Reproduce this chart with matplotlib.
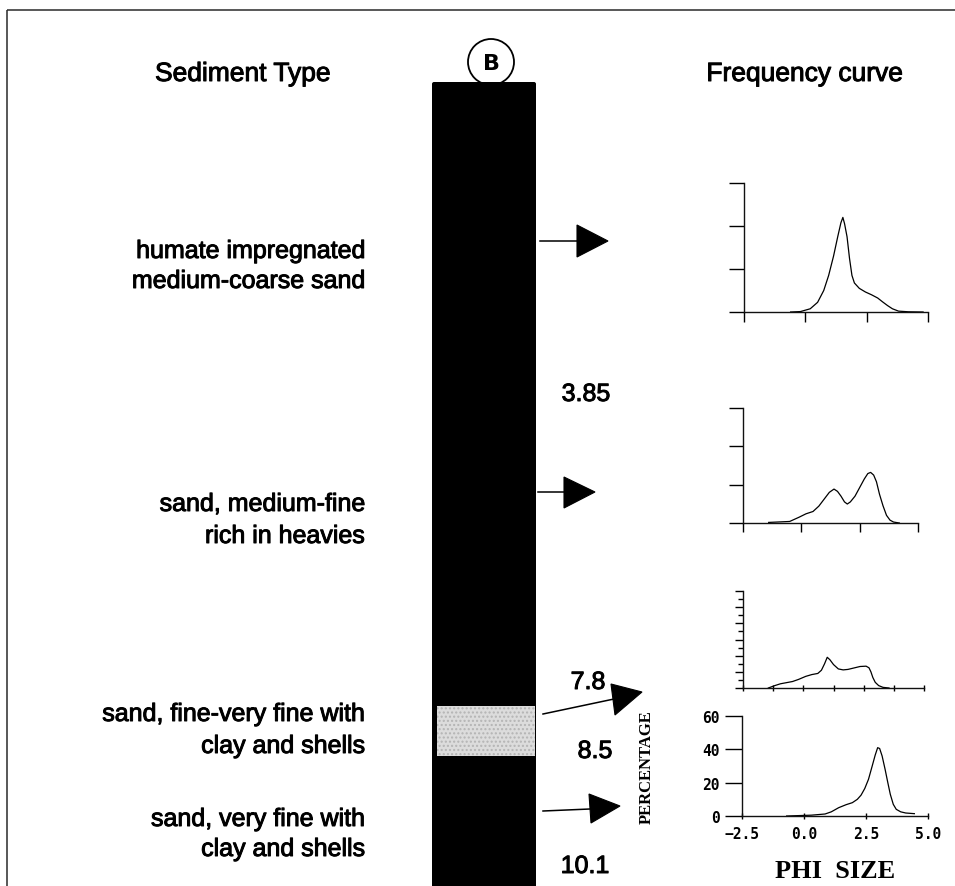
import matplotlib
matplotlib.use("Agg")
import matplotlib.pyplot as plt
import matplotlib.patheffects as pe
from matplotlib.patches import Rectangle, Circle, Polygon, FancyBboxPatch
from matplotlib.ticker import MultipleLocator

# ---- data -------------------------------------------------------------
# grain-size frequency curves (phi size, percentage), top to bottom
phi_1 = [-0.6, -0.2, 0.2, 0.5, 0.75, 0.95, 1.15, 1.32, 1.45, 1.53, 1.6, 1.7,
         1.8, 1.9, 2.0, 2.2, 2.45, 2.7, 2.95, 3.15, 3.35, 3.55, 3.8, 4.2, 4.8]
pct_1 = [0.0, 0.2, 1.5, 4.5, 10, 17, 26, 35, 41.5, 44, 41, 35,
         25, 17, 13.5, 11, 9.3, 8, 6.5, 4.7, 3, 1.5, 0.4, 0.1, 0.0]

phi_2 = [-1.4, -0.5, -0.1, 0.2, 0.5, 0.75, 1.0, 1.2, 1.4, 1.55, 1.7, 1.85,
         1.97, 2.1, 2.3, 2.5, 2.7, 2.85, 2.97, 3.1, 3.22, 3.35, 3.5, 3.65,
         3.8, 3.95, 4.2]
pct_2 = [0.3, 0.8, 3.0, 4.8, 6.0, 8.8, 12.8, 16, 17.7, 16.5, 14, 11,
         9.9, 11, 14, 18.5, 23, 25.8, 26.4, 25, 21.5, 15, 9, 4,
         1.5, 0.5, 0.0]

phi_3 = [-1.45, -1.2, -0.95, -0.7, -0.45, -0.2, 0.1, 0.35, 0.6, 0.75, 0.88,
         0.99, 1.1, 1.25, 1.45, 1.65, 1.85, 2.1, 2.35, 2.6, 2.72, 2.8, 2.88,
         2.98, 3.12, 3.3, 3.55]
pct_3 = [0.0, 1.4, 2.6, 3.3, 4.0, 5.3, 7.2, 8.3, 9.0, 11, 15,
         19, 17.5, 14.5, 11.8, 11.2, 11.5, 12.4, 13.3, 13.5, 12.5, 10, 6.5,
         3.5, 1.5, 0.4, 0.0]

phi_4 = [-0.7, 0.3, 0.85, 1.1, 1.4, 1.7, 1.95, 2.15, 2.3, 2.45, 2.6, 2.75,
         2.87, 2.97, 3.05, 3.15, 3.27, 3.38, 3.48, 3.6, 3.72, 3.9, 4.1, 4.45]
pct_4 = [0.0, 0.5, 1.2, 2.5, 5.0, 6.8, 8.0, 10, 12.5, 16.5, 22, 30,
         36.5, 41, 40.5, 36, 28, 20, 13, 7, 4, 2.5, 1.8, 1.4]

x_ticks = [-2.5, 0.0, 2.5, 5.0]
x_tick_labels = ["\u22122.5", "0.0", "2.5", "5.0"]
y_ticks = [0, 20, 40, 60]
y_tick_labels = ["0", "20", "40", "60"]

sediment_labels = [
    ["humate impregnated", "medium-coarse sand"],
    ["sand, medium-fine", "rich in heavies"],
    ["sand, fine-very fine with", "clay and shells"],
    ["sand, very fine with", "clay and shells"],
]
depth_labels = ["3.85", "7.8", "8.5", "10.1"]

# ---- figure -----------------------------------------------------------
W, H = 955, 887
fig = plt.figure(figsize=(W / 100, H / 100), dpi=100)
fig.patch.set_facecolor("white")

SANS = "Liberation Sans"
HEAVY = [pe.withStroke(linewidth=0.7, foreground="black")]

# overlay in pixel coordinates for the drawn column and annotations
ov = fig.add_axes([0, 0, 1, 1])
ov.set_xlim(0, W)
ov.set_ylim(H, 0)
ov.axis("off")

# page frame
ov.plot([7, W], [11, 11], color="#2a2a2a", lw=1.1, solid_capstyle="butt")
ov.plot([7, 7], [11, H], color="#2a2a2a", lw=1.1, solid_capstyle="butt")

# headings
ov.text(155, 75, "Sediment Type", ha="left", va="center",
        fontsize=19, family=SANS, color="black", path_effects=HEAVY)
ov.text(903, 75, "Frequency curve", ha="right", va="center",
        fontsize=19, family=SANS, color="black", path_effects=HEAVY)

# core label circle (behind the column)
ov.add_patch(Circle((491, 63), 23, facecolor="white", edgecolor="black",
                    lw=1.3, zorder=2))
ov.text(491, 64, "B", ha="center", va="center", fontsize=16,
        fontweight="bold", family="DejaVu Sans", zorder=3)

# sediment core column
ov.add_patch(FancyBboxPatch((432, 83), 104, H - 83 + 20,
                            boxstyle="round,pad=0,rounding_size=2",
                            facecolor="black", edgecolor="none", zorder=4))
# clay / shell layer
ov.add_patch(Rectangle((437, 707), 98, 50, facecolor="#dcdcdc",
                       edgecolor="#b4b4b4", lw=0, hatch="....", zorder=5))

# sediment descriptions (right aligned left of the column)
desc_y = [(252, 282), (505, 537), (715, 747), (820, 850)]
for lines, ys in zip(sediment_labels, desc_y):
    for txt, yy in zip(lines, ys):
        ov.text(365, yy, txt, ha="right", va="center", fontsize=18,
                family=SANS, color="black", path_effects=HEAVY)

# depth marks right of the column
depth_pos = [(586, 395), (588, 683), (595, 752), (585, 867)]
for txt, (xx, yy) in zip(depth_labels, depth_pos):
    ov.text(xx, yy, txt, ha="center", va="center", fontsize=18,
            family=SANS, color="black", path_effects=HEAVY)

# arrows from the column to the frequency curves
arrows = [
    ((540, 242), (578, 242), [(577, 226), (577, 258), (608, 242)]),
    ((538, 493), (565, 493), [(564, 478), (564, 509), (595, 493)]),
    ((543, 715), (614, 700), [(611, 685), (615, 716), (642, 693)]),
    ((543, 812), (590, 810), [(589, 795), (591, 824), (620, 807)]),
]
for (x0, y0), (x1, y1), head in arrows:
    ov.plot([x0, x1], [y0, y1], color="black", lw=1.1, zorder=6)
    ov.add_patch(Polygon(head, closed=True, facecolor="black",
                         edgecolor="black", lw=0.8, zorder=6))

# axis titles of the curve panel
ov.text(647, 767, "PERCENTAGE", rotation=90, ha="center", va="center",
        fontsize=12, fontweight="bold", family="Liberation Serif")
ov.text(835, 860, "PHI  SIZE", ha="center", va="top", fontsize=19,
        fontweight="bold", family="Liberation Serif")


def px_axes(x0, y0, x1, y1):
    return fig.add_axes([x0 / W, 1 - y1 / H, (x1 - x0) / W, (y1 - y0) / H])


def style(ax, ylen, xlen, xdir="out"):
    ax.set_xlim(-2.5, 5.0)
    ax.set_ylim(0, 60)
    ax.patch.set_alpha(0)
    for s in ("top", "right"):
        ax.spines[s].set_visible(False)
    for s in ("left", "bottom"):
        ax.spines[s].set_linewidth(1.0)
        ax.spines[s].set_color("#111111")
    ax.set_xticks(x_ticks)
    ax.set_yticks(y_ticks)
    ax.tick_params(axis="y", direction="out", length=ylen, width=1.0,
                   labelleft=False)
    ax.tick_params(axis="x", direction=xdir, length=xlen, width=1.0,
                   labelbottom=False)


curves = [
    ((744, 184, 928, 313), phi_1, pct_1),
    ((743, 409, 918, 524), phi_2, pct_2),
    ((743, 592, 924, 689), phi_3, pct_3),
    ((742, 717, 928, 817), phi_4, pct_4),
]

axes = []
for i, (box, xs, ys) in enumerate(curves):
    ax = px_axes(*box)
    ax.plot(xs, ys, color="black", lw=0.9, solid_joinstyle="round")
    axes.append(ax)

style(axes[0], ylen=10.5, xlen=7)
style(axes[1], ylen=10, xlen=6.5)
style(axes[2], ylen=6, xlen=4, xdir="inout")
axes[2].yaxis.set_major_locator(MultipleLocator(10))
axes[2].yaxis.set_minor_locator(MultipleLocator(5))
axes[2].xaxis.set_major_locator(MultipleLocator(1.25))
axes[2].tick_params(axis="y", which="minor", direction="out", length=3.5,
                    width=1.0)

ax4 = axes[3]
style(ax4, ylen=12, xlen=5, xdir="inout")
ax4.tick_params(axis="y", labelleft=True, pad=4)
ax4.tick_params(axis="x", labelbottom=True, pad=5)
ax4.set_yticklabels(y_tick_labels)
ax4.set_xticklabels(x_tick_labels)
for lbl in ax4.get_xticklabels() + ax4.get_yticklabels():
    lbl.set_family("DejaVu Sans Mono")
    lbl.set_fontweight("bold")
    lbl.set_fontsize(10.5)

fig.savefig("out.png", dpi=100, facecolor="white")
